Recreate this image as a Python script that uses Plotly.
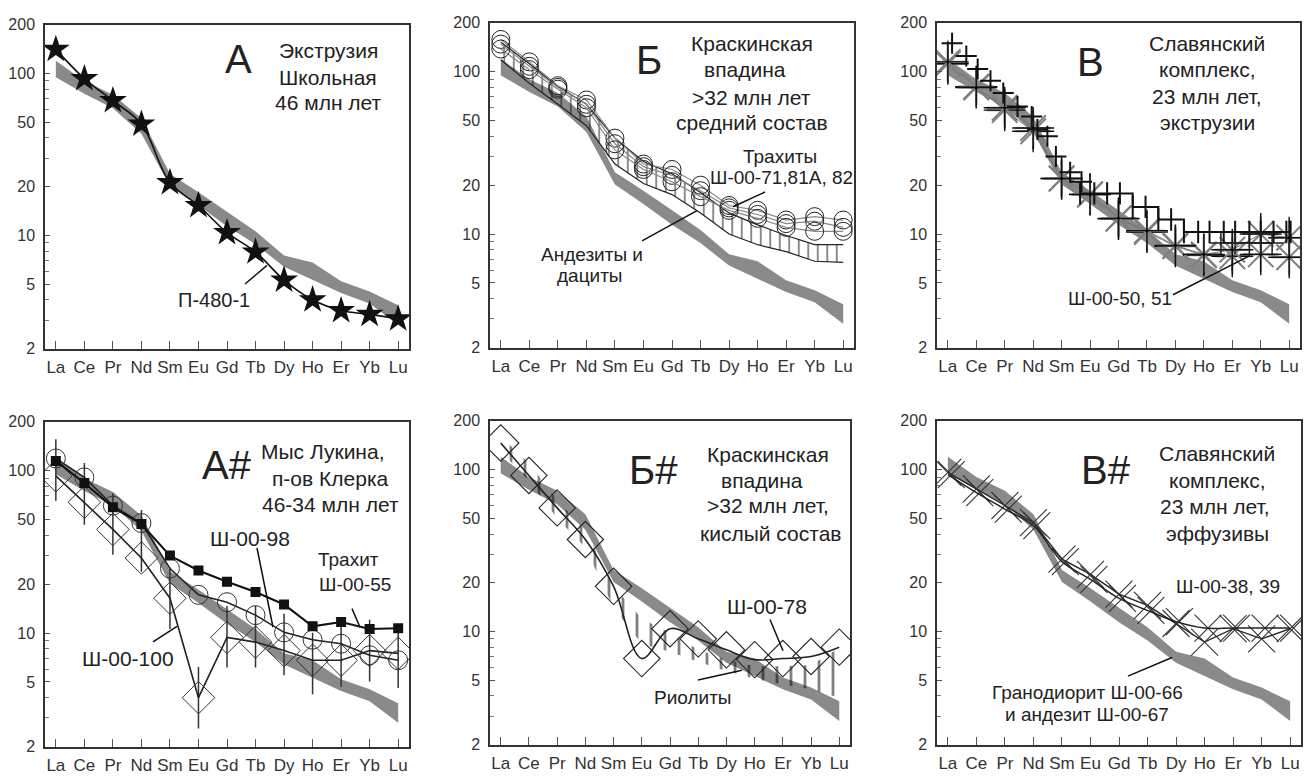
import math
import plotly.graph_objects as go

# ---------------- data ----------------
ELEMENTS = ['La', 'Ce', 'Pr', 'Nd', 'Sm', 'Eu', 'Gd', 'Tb', 'Dy', 'Ho', 'Er', 'Yb', 'Lu']
X = list(range(len(ELEMENTS)))
Y_TICKS = [2, 5, 10, 20, 50, 100, 200]
Y_MINOR = [3, 4, 6, 7, 8, 9, 30, 40, 60, 70, 80, 90]

# grey reference field (same in all panels)
BAND_HIGH = [120, 90, 74, 53, 24, 18.5, 14, 10.6, 7.5, 6.8, 5.2, 4.5, 3.7]
BAND_LOW = [95, 75, 61, 42.5, 20.2, 15.3, 11.4, 8.8, 6.4, 5.3, 4.4, 3.8, 2.8]

# A: П-480-1
A_P480 = [141, 93, 68, 48.7, 21.2, 15.3, 10.4, 7.9, 5.3, 4.0, 3.43, 3.25, 3.05]

# Б: trachytes Ш-00-71, 81А, 82 and andesite/dacite field
B_T71 = [158, 115, 82, 67, 39, 27, 25, 20, 15, 14, 12.2, 12.8, 12.2]
B_T81 = [148, 108, 80, 63, 36, 26, 23, 18.5, 14.5, 13.2, 11.6, 12.0, 11.0]
B_T82 = [138, 103, 78, 60, 33, 25, 21, 17, 14, 12.5, 11.0, 10.4, 10.4]
B_AND_HIGH = [152, 112, 81, 63, 39, 28, 23.5, 18, 13.5, 11.4, 9.8, 8.6, 8.6]
B_AND_LOW = [118, 85, 63, 46.5, 27, 20.5, 17.5, 13.5, 10, 8.6, 7.8, 6.8, 6.7]

# В: Ш-00-50, 51
V_S50 = [112, 81, 58, 43, 22, 17.6, 12.4, 10.3, 8.4, 7.4, 7.3, 7.5, 7.2]
V_S51 = [115, 80, 60, 45, 22, 17.5, 12.5, 10.5, 8.5, 7.5, 8.0, 10.0, 9.5]
V_PLUS_X = [0.15, 0.65, 1.05, 1.5, 1.95, 2.45, 2.95, 3.15, 3.5, 3.8, 4.3, 4.7]
V_PLUS_Y = [150, 125, 104, 88, 74, 61, 53, 44, 40, 30, 24, 21]
V_STEP_X = [4.65, 5.15, 5.6, 6.05, 6.5, 6.95, 7.4, 7.85, 8.3, 8.8, 9.2, 9.7, 10.1, 10.6, 11.0, 11.45, 11.9, 12.05]
V_STEP_Y = [17.8, 17.8, 17.8, 17.8, 14.7, 14.7, 12.3, 12.3, 10.3, 10.3, 10.3, 10.3, 10.3, 10.3, 10.3, 10.3, 10.3, 10.3]
V_STEP2_X = [9.6, 10.1, 10.6, 11.0, 11.4]
V_STEP2_Y = [8.8, 8.8, 8.8, 8.8, 8.8]

# А#: Ш-00-55, Ш-00-98, Ш-00-100
AS_SQ55 = [115, 84, 59.5, 47, 30, 24.3, 20.7, 17.9, 15, 11, 11.7, 10.6, 10.7]
AS_CI98 = [119, 91, 61, 47.6, 25, 17.2, 15.5, 12.9, 10.1, 9.1, 8.6, 7.3, 6.8]
AS_DI100 = [93, 64, 43.5, 29, 16.4, 4.0, 9.4, 8.8, 7.8, 6.8, 6.8, 7.8, 7.5]
AS_BAR = [101, 72, 47, 37, 16.4, 4.0, 9.5, 9.5, 8.5, 6.5, 7.2, 7.8, 7.1]

# Б#: Ш-00-78 and rhyolite field
BS_DI78 = [146, 92, 58, 37, 19, 6.8, 10.4, 9.0, 7.7, 6.7, 6.8, 7.0, 8.0]
BS_RHY_HIGH = [160, 110, 65, 42, 19, 12, 9.8, 7.7, 6.7, 6.1, 6.1, 6.2, 7.9]
BS_RHY_LOW = [130, 85, 50, 33, 14, 8.4, 7.5, 6.5, 5.7, 5.1, 4.7, 4.4, 3.9]

# В#: Ш-00-38, 39
VS_S38 = [96, 76, 60, 47, 28, 22.5, 17, 14.5, 11.2, 8.6, 10.4, 9.0, 10.4]
VS_S39 = [93, 72, 57, 45, 27, 21, 16, 13.5, 11.5, 10.5, 10.5, 10.5, 10.5]
VS_OFFSET = 0.12

# ---------------- layout helpers ----------------
PAGE_OFF = 8                      # default body margin of the html page
W, H = 1311 - PAGE_OFF, 780 - PAGE_OFF
FONT = 'Liberation Sans, Arial, sans-serif'
TXT = '#222222'
GREY = '#8a8a8a'


def px(x):
    return (x - PAGE_OFF) / W


def py(y):
    return 1 - (y - PAGE_OFF) / H


PANELS = [
    (45, 17, 409, 348),
    (490, 15, 854, 347),
    (937, 15, 1300, 347),
    (45, 423, 409, 755),
    (490, 422, 850, 753),
    (937, 422, 1301, 753),
]

fig = go.Figure()


def ax(i):
    n = '' if i == 0 else str(i + 1)
    return 'x' + n, 'y' + n


def add(i, **kw):
    xa, ya = ax(i)
    kw.setdefault('showlegend', False)
    kw.setdefault('hoverinfo', 'skip')
    fig.add_trace(go.Scatter(xaxis=xa, yaxis=ya, **kw))


def grey_band(i):
    add(i, x=X, y=BAND_LOW, mode='lines', line=dict(width=0, color=GREY))
    add(i, x=X, y=BAND_HIGH, mode='lines', line=dict(width=0, color=GREY),
        fill='tonexty', fillcolor=GREY)


# ---- Panel A ----
grey_band(0)
add(0, x=X, y=A_P480, mode='lines+markers', line=dict(color='#111', width=1.6, shape='spline'),
    marker=dict(symbol='star', size=21, color='#111', line=dict(width=0)))

# ---- Panel Б ----
grey_band(1)
add(1, x=X, y=B_AND_LOW, mode='lines', line=dict(color='#222', width=1.2))
add(1, x=X, y=B_AND_HIGH, mode='lines', line=dict(color='#222', width=1.2), fill='tonexty',
    fillcolor='rgba(0,0,0,0)',
    fillpattern=dict(shape='|', size=9.5, solidity=0.2, fgcolor='#111', bgcolor='rgba(0,0,0,0)'))
for s in (B_T71, B_T81, B_T82):
    add(1, x=X, y=s, mode='lines+markers', line=dict(color='#8a8a8a', width=1.2),
        marker=dict(symbol='circle-open', size=18, color='#222', line=dict(width=1)))

# ---- Panel В ----
grey_band(2)
for s in (V_S50, V_S51):
    add(2, x=X, y=s, mode='lines', line=dict(color='#777', width=1))
    add(2, x=X, y=s, mode='markers',
        marker=dict(symbol='asterisk-open', size=30, color='#808080', line=dict(width=2, color='#808080')))
    add(2, x=X, y=s, mode='markers',
        marker=dict(symbol='cross-thin-open', size=30, color='#111', line=dict(width=1.4, color='#111')))
    add(2, x=X, y=s, mode='markers', marker=dict(symbol='circle', size=3, color='#000'))
add(2, x=V_PLUS_X, y=V_PLUS_Y, mode='markers',
    marker=dict(symbol='cross-thin-open', size=15, color='#111', line=dict(width=2, color='#111')))
add(2, x=V_STEP_X, y=V_STEP_Y, mode='lines+markers', line=dict(color='#111', width=2, shape='hv'),
    marker=dict(symbol='line-ns-open', size=16, color='#111', line=dict(width=2, color='#111')))
add(2, x=V_STEP2_X, y=V_STEP2_Y, mode='lines+markers', line=dict(color='#222', width=1.5),
    marker=dict(symbol='cross-thin-open', size=16, color='#222', line=dict(width=1.5, color='#222')))

# ---- Panel А# ----
grey_band(3)
add(3, x=X, y=AS_BAR, mode='markers',
    marker=dict(symbol='line-ns-open', size=44, color='#333', line=dict(width=1.5, color='#333')))
add(3, x=X, y=AS_DI100, mode='lines+markers', line=dict(color='#222', width=1.6),
    marker=dict(symbol='diamond-open', size=25, color='#333', line=dict(width=1)))
add(3, x=X, y=AS_CI98, mode='lines+markers', line=dict(color='#222', width=1.6),
    marker=dict(symbol='circle-open', size=19, color='#333', line=dict(width=1)))
add(3, x=X, y=AS_SQ55, mode='lines+markers', line=dict(color='#111', width=2),
    marker=dict(symbol='square', size=10, color='#111'))

# ---- Panel Б# ----
grey_band(4)
add(4, x=X, y=BS_RHY_LOW, mode='lines', line=dict(width=0))
add(4, x=X, y=BS_RHY_HIGH, mode='lines', line=dict(width=0), fill='tonexty',
    fillcolor='rgba(0,0,0,0)',
    fillpattern=dict(shape='|', size=14, solidity=0.2, fgcolor='#000', bgcolor='rgba(0,0,0,0)'))
add(4, x=X, y=BS_DI78, mode='lines+markers', line=dict(color='#222', width=1.6, shape='spline'),
    marker=dict(symbol='diamond-open', size=28, color='#222', line=dict(width=1.1)))

# ---- Panel В# ----
grey_band(5)
add(5, x=X, y=VS_S38, mode='lines+markers', line=dict(color='#222', width=1.4),
    marker=dict(symbol='x-thin-open', size=27, color='#333', line=dict(width=1.1, color='#333')))
add(5, x=[v + VS_OFFSET for v in X], y=VS_S39, mode='markers',
    marker=dict(symbol='x-thin-open', size=27, color='#333', line=dict(width=1.1, color='#333')))
add(5, x=X, y=VS_S39, mode='lines', line=dict(color='#222', width=1.4, shape='spline'))

# ---------------- axes ----------------
lay = dict(width=W, height=H, margin=dict(l=0, r=0, t=0, b=0),
           paper_bgcolor='white', plot_bgcolor='white',
           font=dict(family=FONT, color=TXT), showlegend=False)
for i, (l, t, r, b) in enumerate(PANELS):
    n = '' if i == 0 else str(i + 1)
    lay['xaxis' + n] = dict(domain=[px(l), min(px(r), 1)], anchor='y' + n, range=[-0.38, 12.38],
                            tickvals=X, ticktext=ELEMENTS, ticks='inside', ticklen=8,
                            tickcolor='#555', tickwidth=1, showgrid=False, zeroline=False,
                            showline=True, linecolor='#333', linewidth=1.5, mirror=True,
                            tickfont=dict(size=17, color='#333', family=FONT),
                            ticklabelstandoff=2, fixedrange=True)
    lay['yaxis' + n] = dict(domain=[py(b), py(t)], anchor='x' + n, type='log',
                            range=[math.log10(2), math.log10(200)],
                            tickvals=Y_TICKS, ticktext=[str(v) for v in Y_TICKS],
                            ticks='inside', ticklen=5, tickcolor='#555', tickwidth=1,
                            minor=dict(tickvals=Y_MINOR, ticks='inside', ticklen=4,
                                       tickcolor='#777', tickwidth=1, showgrid=False),
                            showgrid=False, zeroline=False, showline=True,
                            linecolor='#333', linewidth=1.5, mirror=True,
                            tickfont=dict(size=16, color='#333', family=FONT),
                            ticklabelstandoff=5, fixedrange=True)

annotations = []


def text(x, y, s, size=21):
    annotations.append(dict(x=px(x), y=py(y), xref='paper', yref='paper', text=s,
                            showarrow=False, xanchor='center', yanchor='middle',
                            font=dict(size=size, color=TXT, family=FONT)))


shapes = []


def leader(x0, y0, x1, y1):
    shapes.append(dict(type='line', xref='paper', yref='paper', x0=px(x0), y0=py(y0),
                       x1=px(x1), y1=py(y1), line=dict(color='#111', width=1.5)))


BIG = 40
# A
text(238, 52, 'А', BIG)
text(328, 43, 'Экструзия')
text(328, 71, 'Школьная')
text(328, 96, '46 млн лет')
text(214, 298, 'П-480-1', 20)
leader(245, 282, 267, 263)
# Б
text(649, 53, 'Б', BIG)
text(752, 36, 'Краскинская')
text(745, 63, 'впадина')
text(752, 91, '>32 млн лет')
text(752, 117, 'средний состав')
text(780, 152, 'Трахиты', 19)
text(782, 173, 'Ш-00-71,81А, 82', 19)
leader(765, 188, 733, 203)
text(592, 252, 'Андезиты и', 19)
text(590, 273, 'дациты', 19)
leader(642, 238, 697, 207)
# В
text(1090, 55, 'В', BIG)
text(1207, 36, 'Славянский')
text(1207, 63, 'комплекс,')
text(1207, 90, '23 млн лет,')
text(1207, 117, 'экструзии')
text(1120, 297, 'Ш-00-50, 51', 19)
leader(1173, 293, 1250, 253)
# А#
text(227, 467, 'А#', BIG)
text(322, 453, 'Мыс Лукина,')
text(330, 481, 'п-ов Клерка')
text(330, 508, '46-34 млн лет')
text(250, 542, 'Ш-00-98', 21)
leader(257, 552, 273, 633)
text(348, 564, 'Трахит', 19)
text(355, 589, 'Ш-00-55', 19)
leader(352, 614, 360, 633)
text(128, 665, 'Ш-00-100', 21)
leader(153, 648, 177, 632)
# Б#
text(653, 472, 'Б#', BIG)
text(768, 456, 'Краскинская')
text(762, 483, 'впадина')
text(768, 509, '>32 млн лет,')
text(770, 537, 'кислый состав')
text(767, 612, 'Ш-00-78', 21)
leader(770, 625, 783, 657)
text(693, 705, 'Риолиты', 19)
leader(698, 687, 742, 677)
# В#
text(1106, 472, 'В#', BIG)
text(1217, 455, 'Славянский')
text(1217, 483, 'комплекс,')
text(1215, 510, '23 млн лет,')
text(1217, 537, 'эффузивы')
text(1228, 591, 'Ш-00-38, 39', 19)
text(1087, 700, 'Гранодиорит Ш-00-66', 19)
text(1087, 722, 'и андезит Ш-00-67', 19)
leader(1128, 683, 1172, 664)

lay['annotations'] = annotations
lay['shapes'] = shapes
fig.update_layout(**lay)
fig.write_html('out.html')
